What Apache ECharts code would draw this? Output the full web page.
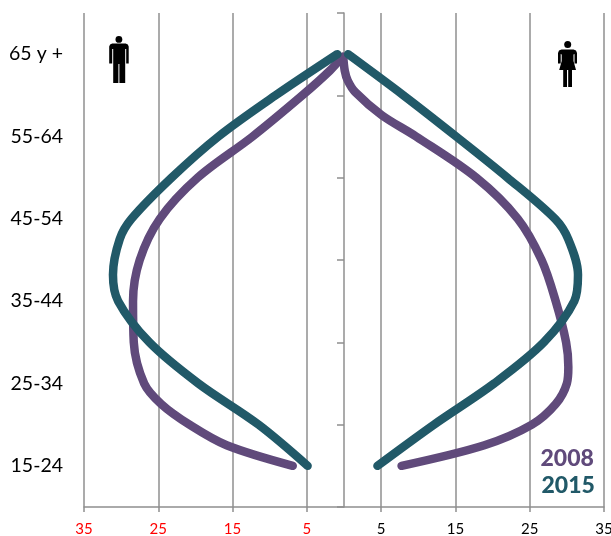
<!DOCTYPE html>
<html><head><meta charset="utf-8">
<style>html,body{margin:0;padding:0;background:#fff}#c{width:611px;height:536px}</style>
<script src="https://cdn.jsdelivr.net/npm/echarts@6/dist/echarts.min.js"></script>
</head><body><div id="c"></div>
<script>
const ageGroups = ['15-24','25-34','35-44','45-54','55-64','65 y +'];
// vertical position of each reading, in age bands counted from the bottom (band centres at .5)
const levels2015 = [0.5,1,1.5,2,2.5,2.82,3.25,3.5,4,4.5,5,5.5];
const men2015    = [-4.9,-11.5,-19.6,-26.2,-30.4,-31.1,-30.2,-28.6,-23.2,-16.9,-9.2,-0.9];
const women2015  = [4.5,12.1,20.2,26.9,31,31.5,30.2,28.4,22,15.1,8,0.55];
const levels2008M = [0.5,0.75,1,1.25,1.5,2,2.5,3,3.5,4,4.5,5,5.3,5.47];
const men2008     = [-6.9,-15.8,-20.8,-24.6,-26.9,-28.3,-28.4,-27.5,-24.8,-19.7,-12.3,-5.6,-1.9,-0.2];
const levels2008W = [0.5,0.75,1,1.25,1.5,1.7,2,2.5,3,3.5,4,4.5,4.76,5.04,5.18,5.3,5.47];
const women2008   = [7.75,18.9,25.3,28.5,30,30.2,29.9,28.5,26.6,23.4,17.8,9.7,5.07,1.5,0.5,0.1,-0.1];
const legendYears = ['2008','2015'];
const PURPLE='#604A7B', TEAL='#215968', GRID='#8f8f8f';
const FONT='Lato';
const MAN_BODY=[[3,7.6],[16.5,7.6],[18.6,8.4],[19.5,10.6],[19.5,27.5],[17,27.5],[17,13],[16,13],[16,47],[10.2,47],[10.2,28],[9.2,28],[9.2,47],[4,47],[4,13],[3,13],[3,27.5],[0,27.5],[0,10.6],[0.9,8.4]];
const WOMAN_BODY=[[3.5,8.5],[15.5,8.5],[18,9.5],[19,12],[19,22.5],[16.5,22.5],[16.5,13],[15.5,13.5],[15.5,20],[18,29],[14,29],[14,46],[10.2,46],[10.2,29],[9,29],[9,46],[5.2,46],[5.2,29],[1.2,29],[3.7,20],[3.7,13.5],[2.7,13],[2.7,22.5],[0,22.5],[0,12],[1,9.5]];
const person=(x,y,r,pts)=>({type:'group',x,y,children:[
  {type:'circle',shape:{cx:9.7,cy:r,r},style:{fill:'#000'}},
  {type:'polygon',shape:{points:pts},style:{fill:'#000'}}]});
const line=(name,vals,levels,color)=>({name,type:'line',yAxisIndex:2,data:vals.map((v,i)=>[v,levels[i]]),smooth:0.33,showSymbol:false,
  lineStyle:{color,width:8.5,cap:'round',join:'round'},itemStyle:{color}});
const chart=echarts.init(document.getElementById('c'),null,{renderer:'canvas'});
chart.setOption({
  animation:false,
  grid:{left:84,right:7,top:13,bottom:29,outerBoundsMode:'none'},
  xAxis:{type:'value',min:-35,max:35,interval:10,
    axisLine:{show:true,onZero:false,lineStyle:{color:GRID,width:1.5}},
    axisTick:{show:true,length:5,lineStyle:{color:GRID,width:1.5}},
    splitLine:{show:true,lineStyle:{color:GRID,width:1.5}},
    axisLabel:{margin:15,fontFamily:FONT,fontSize:15,hideOverlap:false,showMinLabel:true,showMaxLabel:true,
      color:v=>v<0?'#ff0000':'#000000',formatter:v=>String(Math.abs(v))}},
  yAxis:[
    {type:'category',data:ageGroups,boundaryGap:true,position:'left',
     axisLine:{show:false,onZero:false},axisTick:{show:false},splitLine:{show:false},
     axisLabel:{margin:21,fontFamily:FONT,fontSize:19.5,color:'#000'}},
    {type:'category',data:ageGroups,boundaryGap:true,position:'left',
     axisLine:{show:true,onZero:true,lineStyle:{color:GRID,width:1.5}},
     axisTick:{show:true,length:7,lineStyle:{color:GRID,width:1.5}},
     axisLabel:{show:false},splitLine:{show:false}},
    {type:'value',min:0,max:6,show:false,splitLine:{show:false}}
  ],
  series:[line('2008 men',men2008,levels2008M,PURPLE),line('2008 women',women2008,levels2008W,PURPLE),
          line('2015 men',men2015,levels2015,TEAL),line('2015 women',women2015,levels2015,TEAL)],
  graphic:[
    person(109.2,36,3.4,MAN_BODY),
    person(558,41,3.5,WOMAN_BODY),
    {type:'text',x:540.5,y:447,style:{text:legendYears[0],fill:PURPLE,font:'900 23px '+FONT}},
    {type:'text',x:541.5,y:474,style:{text:legendYears[1],fill:TEAL,font:'900 23px '+FONT}}
  ]
});
</script></body></html>
